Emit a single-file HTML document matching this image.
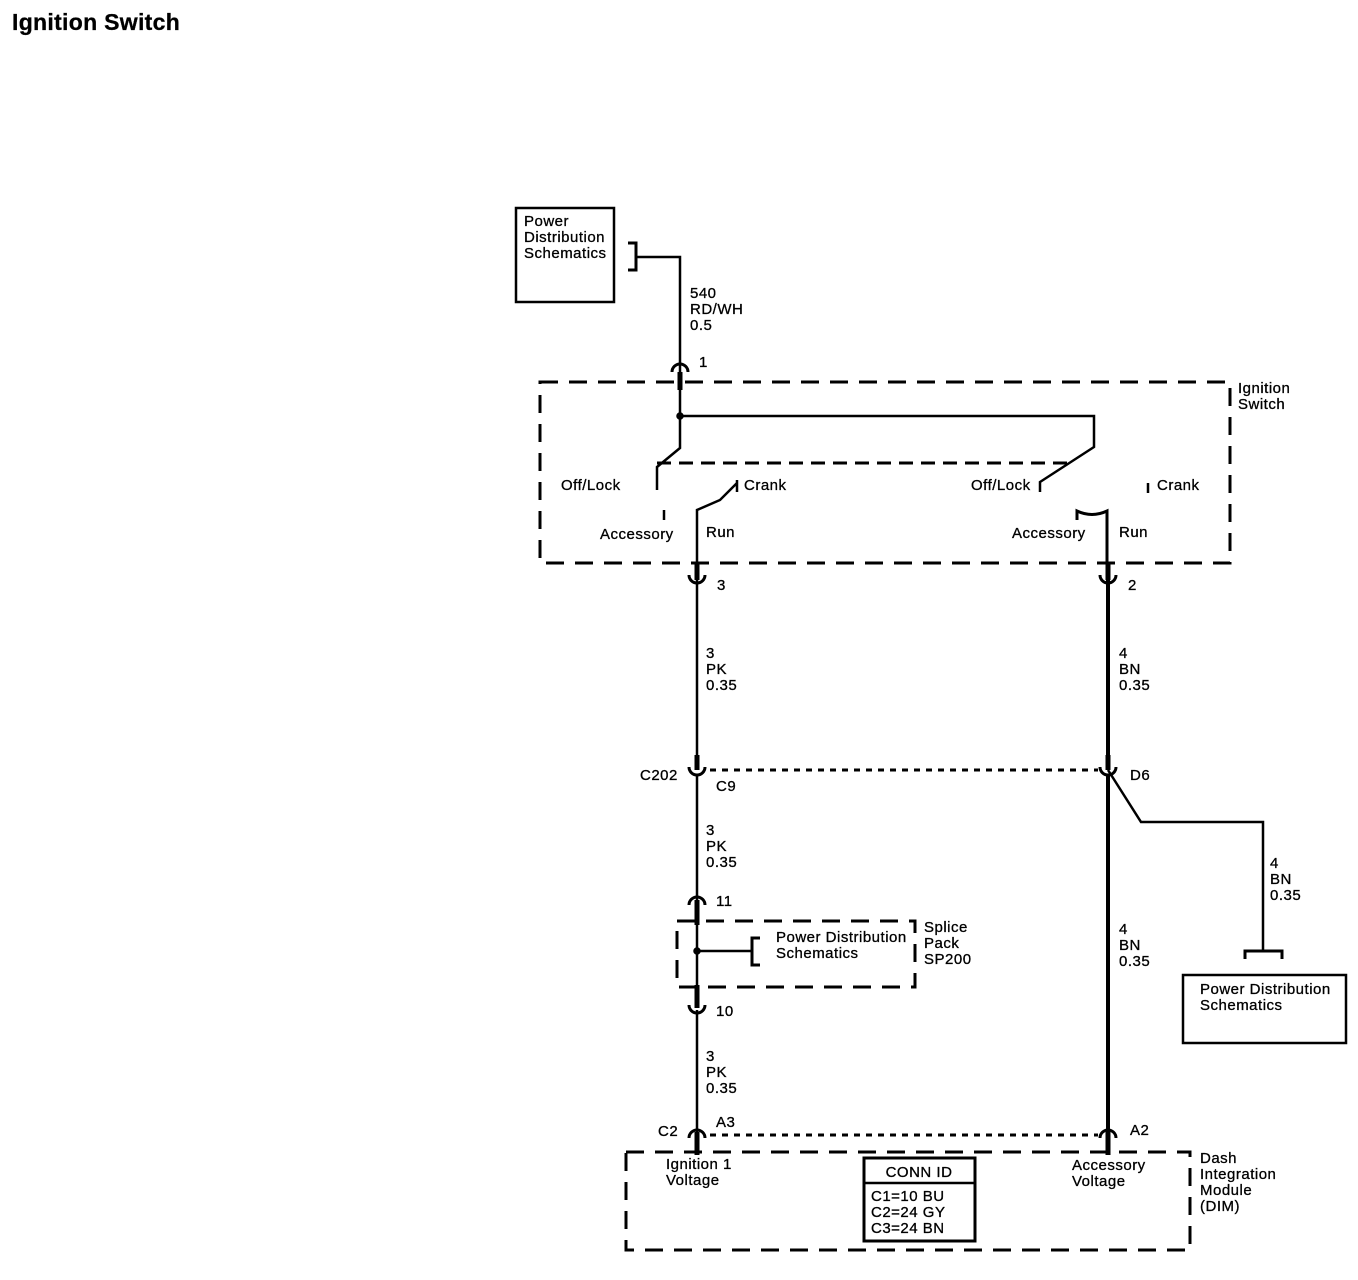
<!DOCTYPE html>
<html><head><meta charset="utf-8"><style>
html,body{margin:0;padding:0;background:#fff;}
svg{display:block;}
text{font-family:"Liberation Sans",sans-serif;font-size:15px;letter-spacing:0.5px;fill:#000;stroke:#000;stroke-width:0.3px;}
</style></head><body>
<svg width="1358" height="1280" viewBox="0 0 1358 1280" xmlns="http://www.w3.org/2000/svg">
<text x="12" y="30" style="font-size:23px;font-weight:bold;letter-spacing:0.3px">Ignition Switch</text>

<g fill="none" stroke="#000" stroke-width="2.5">
<rect x="516" y="208" width="98" height="94"/>
<path d="M628 243 H636 V270 H628" stroke-width="3"/>
<path d="M636 257 H680 V385"/>
<path d="M680 372 V390" stroke-width="5"/>
<path d="M672 372 A8 8 0 0 1 688 372" stroke-width="3"/>

<rect x="540" y="382" width="690" height="181" stroke-dasharray="18,11" stroke-width="3"/>
<path d="M680 385 V448 L657 467 V490"/>
<circle cx="680" cy="416" r="2.5" fill="#000"/>
<path d="M680 416 H1094 V447 L1040 482 V492"/>
<path d="M657 463 H1075" stroke-dasharray="14,8" stroke-width="3"/>
<path d="M737 480 V492 M737 483 L720 500 L697 510 V575"/>
<path d="M664 510 V520"/>
<path d="M1148 483 V493"/>
<path d="M1077 520 V511 Q1092 518 1107 511 V575" stroke-width="3"/>
<path d="M697 563 V580" stroke-width="5"/>
<path d="M1108 563 V580" stroke-width="5"/>
<path d="M689 575 A8 8 0 0 0 705 575" stroke-width="3"/>
<path d="M1100 575 A8 8 0 0 0 1116 575" stroke-width="3"/>

<path d="M697 580 V765"/>
<path d="M1108 580 V765" stroke-width="4"/>
<path d="M697 755 V770" stroke-width="5"/>
<path d="M1108 755 V770" stroke-width="5"/>
<path d="M689 767 A8 8 0 0 0 705 767" stroke-width="3"/>
<path d="M1100 767 A8 8 0 0 0 1116 767" stroke-width="3"/>
<path d="M710 770 H1098" stroke-dasharray="6,6" stroke-width="3"/>

<path d="M697 775 V902"/>
<path d="M689 905 A8 8 0 0 1 705 905" stroke-width="3"/>
<path d="M697 900 V925" stroke-width="5"/>
<rect x="677" y="921" width="238" height="66" stroke-dasharray="18,11" stroke-width="3"/>
<path d="M697 925 V985"/>
<circle cx="697" cy="951" r="2.5" fill="#000"/>
<path d="M697 951 H752"/>
<path d="M760 938 H752 V965 H760" stroke-width="3"/>
<path d="M697 985 V1008" stroke-width="5"/>
<path d="M689 1005 A8 8 0 0 0 705 1005" stroke-width="3"/>
<path d="M697 1010 V1132"/>

<path d="M1108 775 V1132" stroke-width="4"/>
<path d="M1108 770 L1141 822 H1263 V952"/>
<path d="M1245 959 V951 H1282 V959" stroke-width="3"/>
<rect x="1183" y="975" width="163" height="68"/>

<path d="M689 1138 A8 8 0 0 1 705 1138" stroke-width="3"/>
<path d="M1100 1138 A8 8 0 0 1 1116 1138" stroke-width="3"/>
<path d="M697 1132 V1155" stroke-width="5"/>
<path d="M1108 1132 V1155" stroke-width="5"/>
<path d="M710 1135 H1098" stroke-dasharray="6,6" stroke-width="3"/>
<rect x="626" y="1152" width="564" height="98" stroke-dasharray="18,11" stroke-width="3"/>
<rect x="864" y="1158" width="111" height="83" stroke-width="3"/>
<path d="M864 1183 H975"/>
</g>

<text x="524" y="226">Power</text>
<text x="524" y="242">Distribution</text>
<text x="524" y="258">Schematics</text>
<text x="690" y="298">540</text>
<text x="690" y="314">RD/WH</text>
<text x="690" y="330">0.5</text>
<text x="699" y="367">1</text>
<text x="1238" y="393">Ignition</text>
<text x="1238" y="409">Switch</text>
<text x="561" y="490">Off/Lock</text>
<text x="744" y="490">Crank</text>
<text x="971" y="490">Off/Lock</text>
<text x="1157" y="490">Crank</text>
<text x="600" y="539">Accessory</text>
<text x="706" y="537">Run</text>
<text x="1012" y="538">Accessory</text>
<text x="1119" y="537">Run</text>
<text x="717" y="590">3</text>
<text x="1128" y="590">2</text>
<text x="706" y="658">3</text><text x="706" y="674">PK</text><text x="706" y="690">0.35</text>
<text x="1119" y="658">4</text><text x="1119" y="674">BN</text><text x="1119" y="690">0.35</text>
<text x="640" y="780">C202</text>
<text x="716" y="791">C9</text>
<text x="1130" y="780">D6</text>
<text x="706" y="835">3</text><text x="706" y="851">PK</text><text x="706" y="867">0.35</text>
<text x="1270" y="868">4</text><text x="1270" y="884">BN</text><text x="1270" y="900">0.35</text>
<text x="716" y="906">11</text>
<text x="776" y="942">Power Distribution</text>
<text x="776" y="958">Schematics</text>
<text x="924" y="932">Splice</text><text x="924" y="948">Pack</text><text x="924" y="964">SP200</text>
<text x="1119" y="934">4</text><text x="1119" y="950">BN</text><text x="1119" y="966">0.35</text>
<text x="1200" y="994">Power Distribution</text>
<text x="1200" y="1010">Schematics</text>
<text x="716" y="1016">10</text>
<text x="706" y="1061">3</text><text x="706" y="1077">PK</text><text x="706" y="1093">0.35</text>
<text x="658" y="1136">C2</text>
<text x="716" y="1127">A3</text>
<text x="1130" y="1135">A2</text>
<text x="666" y="1169">Ignition 1</text>
<text x="666" y="1185">Voltage</text>
<text x="1072" y="1170">Accessory</text>
<text x="1072" y="1186">Voltage</text>
<text x="919" y="1177" text-anchor="middle">CONN ID</text>
<text x="871" y="1201">C1=10 BU</text>
<text x="871" y="1217">C2=24 GY</text>
<text x="871" y="1233">C3=24 BN</text>
<text x="1200" y="1163">Dash</text>
<text x="1200" y="1179">Integration</text>
<text x="1200" y="1195">Module</text>
<text x="1200" y="1211">(DIM)</text>
</svg>
</body></html>
